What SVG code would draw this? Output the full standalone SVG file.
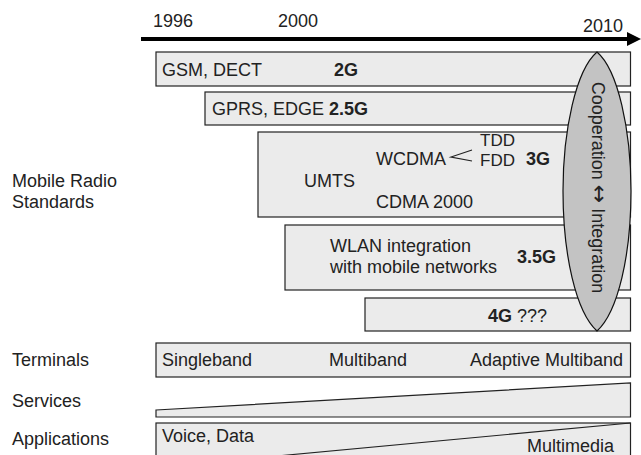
<svg xmlns="http://www.w3.org/2000/svg" width="641" height="455" viewBox="0 0 641 455">
<style>
text{font-family:"Liberation Sans",Arial,sans-serif;font-size:18px;fill:#222}
.b{font-weight:bold}
.s{font-size:17px}
.arr{font-family:"DejaVu Sans",sans-serif;font-size:22px}
.box{fill:#ebebeb;stroke:#222;stroke-width:1.2}
.ln{stroke:#222;stroke-width:1.2;fill:none}
</style>
<rect width="641" height="455" fill="#fff"/>
<g id="axis">
<line x1="141" y1="39" x2="630" y2="39" stroke="#000" stroke-width="4"/>
<polygon points="627,32 641,39 627,46" fill="#000"/>
<text x="153" y="27">1996</text>
<text x="278" y="27">2000</text>
<text x="583" y="32">2010</text>
</g>
<g id="labels">
<text x="12" y="187">Mobile Radio</text>
<text x="12" y="208">Standards</text>
<text x="12" y="366">Terminals</text>
<text x="12" y="407">Services</text>
<text x="12" y="445">Applications</text>
</g>
<g id="g2">
<rect class="box" x="156" y="52" width="474.5" height="34"/>
<text x="162" y="76">GSM, DECT</text>
<text class="b" x="334" y="76">2G</text>
</g>
<g id="g25">
<rect class="box" x="205" y="92" width="425.5" height="33"/>
<text x="212" y="115">GPRS, EDGE <tspan class="b">2.5G</tspan></text>
</g>
<g id="g3">
<rect class="box" x="258" y="132" width="372.5" height="85"/>
<text class="s" x="480" y="146">TDD</text>
<text x="376" y="165">WCDMA</text>
<text class="s" x="480" y="165.5">FDD</text>
<text class="b" x="526" y="165">3G</text>
<text x="304" y="187">UMTS</text>
<text x="376" y="208">CDMA 2000</text>
<polyline class="ln" points="472,150 451,157 472,161"/>
</g>
<g id="g35">
<rect class="box" x="285" y="225" width="345.5" height="65"/>
<text x="330" y="252">WLAN integration</text>
<text x="330" y="273">with mobile networks</text>
<text class="b" x="517" y="263">3.5G</text>
</g>
<g id="g4">
<rect class="box" x="365" y="298" width="265.5" height="33"/>
<text x="488" y="322"><tspan class="b">4G</tspan> ???</text>
</g>
<g id="coop">
<path d="M597,52 C618,70 631,130 631,191 C631,255 618,312 597,331 C576,312 563,255 563,191 C563,130 576,70 597,52 Z" fill="#c3c3c3" stroke="#111" stroke-width="1.2"/>
<text transform="translate(591.5,187.5) rotate(90)" text-anchor="middle">Cooperation <tspan class="arr">↔</tspan> Integration</text>
</g>
<g id="terminals">
<rect class="box" x="156" y="343" width="474.5" height="34"/>
<text x="162" y="366">Singleband</text>
<text x="329" y="366">Multiband</text>
<text x="470" y="366">Adaptive Multiband</text>
</g>
<g id="services">
<polygon class="box" points="156,410 630.5,383 630.5,417 156,417"/>
</g>
<g id="applications">
<rect class="box" x="156" y="423" width="474.5" height="40"/>
<line class="ln" x1="630.5" y1="423" x2="282" y2="455.5"/>
<text x="162" y="442">Voice, Data</text>
<text x="527" y="452">Multimedia</text>
</g>
</svg>
